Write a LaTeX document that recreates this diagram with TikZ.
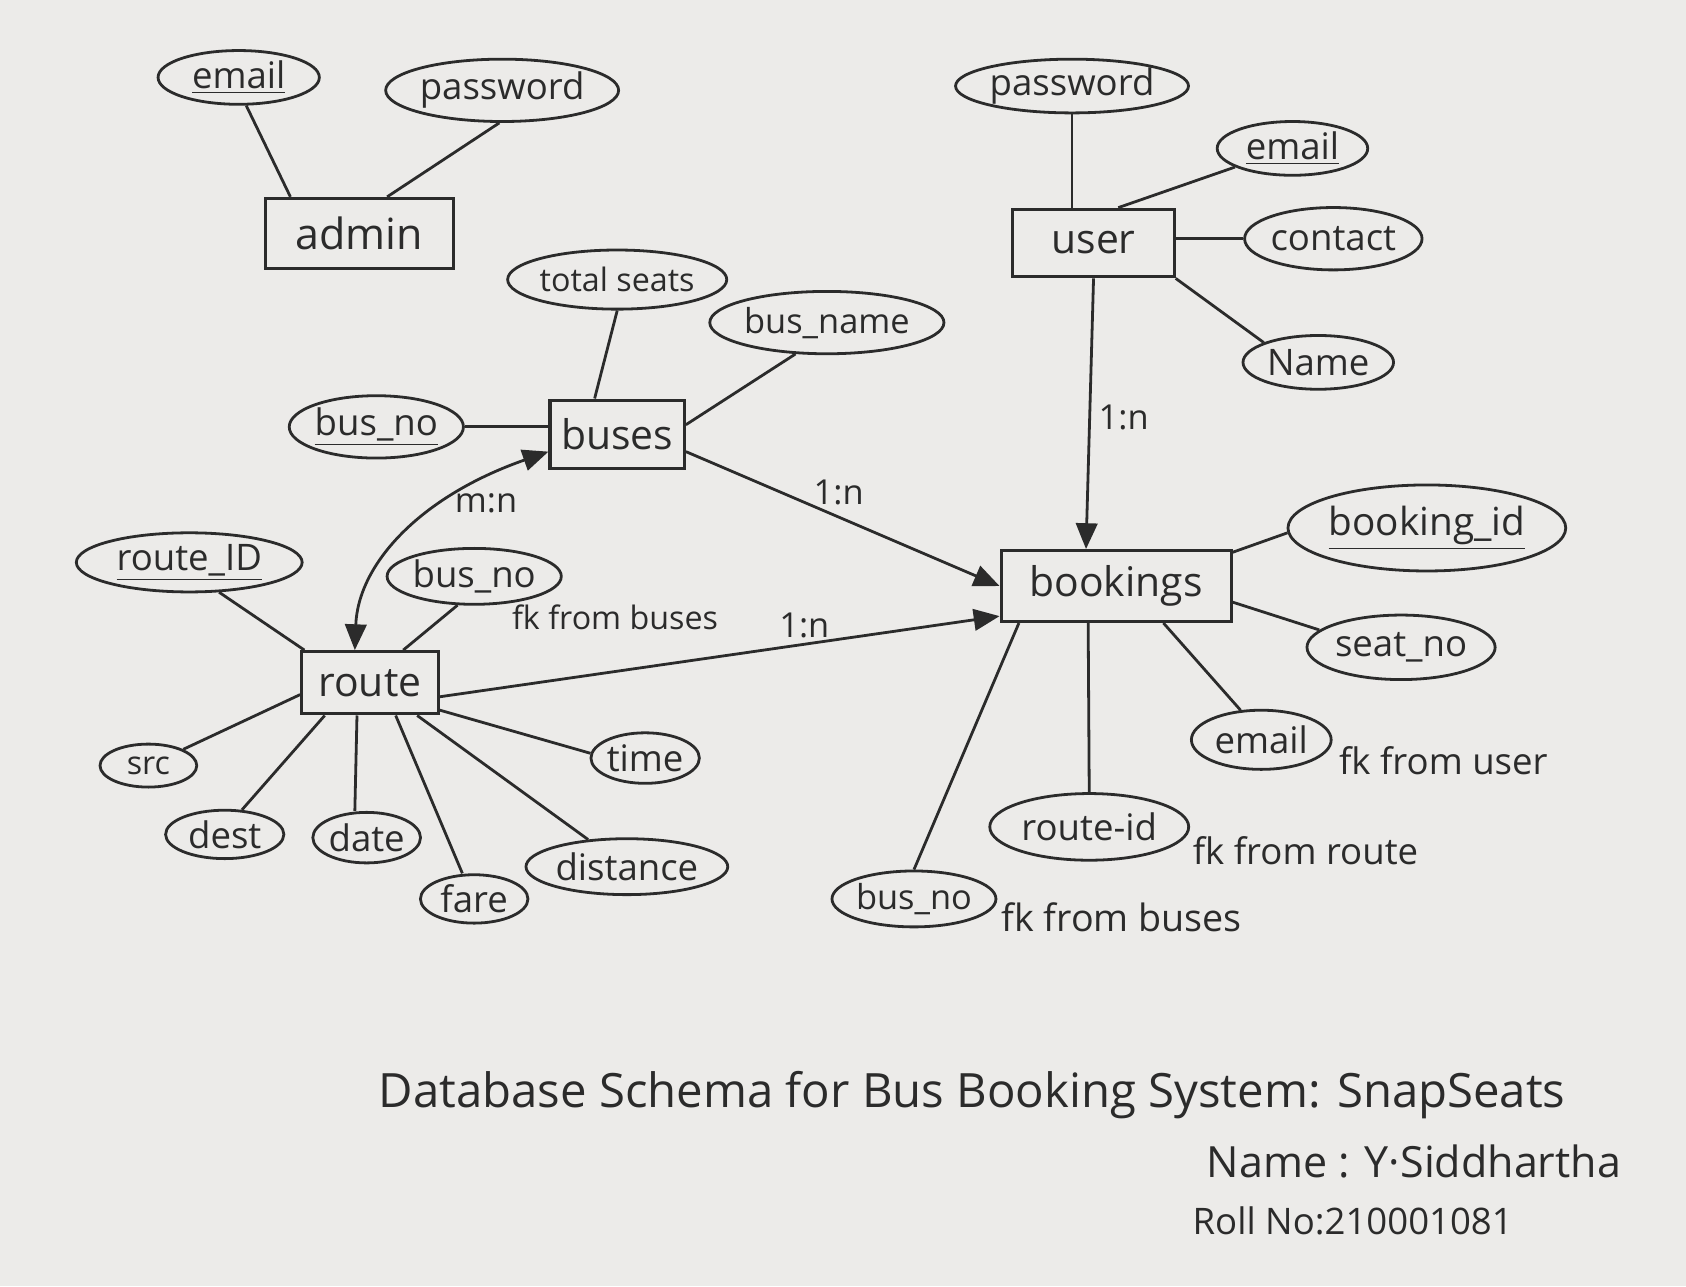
\documentclass[tikz,border=0pt]{standalone}
\usepackage{fontspec}
\setmainfont{Open Sans}
\usetikzlibrary{shapes.geometric,calc,arrows.meta}
\definecolor{paper}{HTML}{ECEBE9}
\definecolor{ink}{HTML}{2B2B2B}
\newcommand\fsz[1]{\fontsize{#1}{#1}\selectfont}
\tikzset{
  attr/.style={ellipse, draw=ink, line width=1.3pt, text=ink, inner sep=0pt, font=\fsz{17}},
  ent/.style={rectangle, draw=ink, line width=1.4pt, text=ink, inner sep=0pt, font=\fsz{19}},
  lbl/.style={text=ink, inner sep=0pt, font=\fsz{16}},
  arr/.style={-{Triangle[length=12pt,width=10pt]}},
  barr/.style={{Triangle[length=12pt,width=10pt]}-{Triangle[length=12pt,width=10pt]}}
}
\begin{document}
\begin{tikzpicture}[x=0.5pt,y=-0.5pt, draw=ink, line width=1.3pt]
\fill[paper] (0,0) rectangle (1568,1196);
\useasboundingbox (0,0) rectangle (1568,1196);

% admin
\node[ent, minimum width=87.5pt, minimum height=32.5pt, font=\fsz{20}] (admin) at (334,217) {admin};
\node[attr, minimum width=75pt, minimum height=25pt] (ae) at (222,72) {\underline{email}};
\node[attr, minimum width=97pt, minimum height=29pt] (ap) at (467,84) {password};
\draw (ae.285) -- ([xshift=12.5pt]admin.north west);
\draw (ap.265) -- ([xshift=13pt]admin.north);

% user
\node[ent, minimum width=75pt, minimum height=31.5pt] (user) at (1017,226) {user};
\node[attr, minimum width=87pt, minimum height=25pt] (up) at (997,80) {password};
\node[attr, minimum width=70pt, minimum height=25pt] (ue) at (1202,138) {\underline{email}};
\node[attr, minimum width=69pt, minimum height=29pt] (uc) at (1240,222) {contact};
\node[attr, minimum width=70pt, minimum height=25pt] (un) at (1226,337) {Name};
\draw (up.south) -- (up.south |- user.north);
\draw (ue.198) -- ([xshift=11.5pt]user.north);
\draw (uc.west) -- (uc.west -| user.east);
\draw (un.160) -- (user.south east);

% buses
\node[ent, minimum width=62.5pt, minimum height=32pt] (buses) at (574,404) {buses};
\node[attr, minimum width=97pt, minimum height=27.5pt, font=\fsz{15}] (ts) at (574,260) {total seats};
\node[attr, minimum width=95pt, minimum height=29pt, font=\fsz{16}] (bn) at (769,300) {bus\_name};
\node[attr, minimum width=75pt, minimum height=29pt] (bno) at (350,397) {\underline{bus\_no}};
\draw (ts.south) -- ([xshift=-10.5pt]buses.north);
\draw (bn.225) -- ([yshift=4.5pt]buses.east);
\draw (bno.east) -- (bno.east -| buses.west);

% route
\node[ent, minimum width=63.5pt, minimum height=29pt] (route) at (344,635) {route};
\node[attr, minimum width=105pt, minimum height=27.5pt] (ri) at (176,523) {\underline{route\_ID}};
\node[attr, minimum width=70pt, minimum height=26pt] (rb) at (441,536) {bus\_no};
\node[lbl, font=\fsz{15}] (rbfk) at (572,574) {fk from buses};
\node[attr, minimum width=45pt, minimum height=20pt, font=\fsz{15}] (src) at (138,712) {src};
\node[attr, minimum width=55pt, minimum height=22.5pt] (dest) at (209,776) {dest};
\node[attr, minimum width=50pt, minimum height=23.5pt] (date) at (341,779) {date};
\node[attr, minimum width=50pt, minimum height=22.5pt] (fare) at (441,836) {fare};
\node[attr, minimum width=75pt, minimum height=26pt] (dist) at (583,806) {distance};
\node[attr, minimum width=50pt, minimum height=23.5pt] (time) at (600,705) {time};
\draw (ri.315) -- ([xshift=2pt]route.north west);
\draw (rb.240) -- ([xshift=15.5pt]route.north);
\draw ([yshift=-5.5pt]route.west) -- (src.25);
\draw ([xshift=-21pt]route.south) -- (dest.55);
\draw ([xshift=-6pt]route.south) -- ([xshift=-5.5pt]date.north);
\draw ([xshift=12pt]route.south) -- ([xshift=-5.5pt]fare.north);
\draw ([xshift=22pt]route.south) -- (dist.145);
\draw ([yshift=2.5pt]route.south east) -- (time.175);

% bookings
\node[ent, minimum width=107pt, minimum height=33pt] (bk) at (1038,545) {bookings};
\node[attr, minimum width=110pt, minimum height=40pt, font=\fsz{18}] (bi) at (1327,491) {\underline{booking\_id}};
\node[attr, minimum width=87.5pt, minimum height=30pt] (sn) at (1303,602) {seat\_no};
\node[attr, minimum width=65pt, minimum height=27.5pt] (be) at (1173,688) {email};
\node[lbl, font=\fsz{17}, anchor=west] (befk) at (1244,707) {fk from user};
\node[attr, minimum width=92.5pt, minimum height=31pt] (br) at (1013,769) {route-id};
\node[lbl, font=\fsz{17}, anchor=west] (brfk) at (1108,791) {fk from route};
\node[attr, minimum width=70pt, minimum height=26pt, font=\fsz{16}] (bb) at (850,836) {bus\_no};
\node[lbl, font=\fsz{17.5}, anchor=west] (bbfk) at (930,853) {fk from buses};
\draw ([yshift=-1.5pt]bk.north east) -- (bi.182);
\draw ([yshift=-7.5pt]bk.east) -- (sn.168);
\draw ([xshift=22pt]bk.south) -- (be.125);
\draw ([xshift=-13pt]bk.south) -- (br.north);
\draw ([xshift=9pt]bk.south west) -- (bb.north);

% relationships
\draw[arr] (user.south) -- ([xshift=-14pt]bk.north);
\node[lbl] (l1) at (1045,388) {1:n};
\draw[arr] ([yshift=-8pt]buses.east) -- (bk.west);
\node[lbl] (l2) at (780,458) {1:n};
\draw[arr] ([yshift=-6.5pt]route.east) -- ([yshift=-14pt]bk.west);
\node[lbl] (l3) at (748,582) {1:n};
\draw[barr] ([yshift=-8pt]buses.west) .. controls (390,462) and (333,525) .. ([xshift=-7pt]route.north);
\node[lbl] (l4) at (452,468) {m:n};

% title
\node[lbl, font=\fsz{22}] (title) at (904,1018) {Database Schema for Bus Booking System: SnapSeats};
\node[lbl, font=\fsz{20}] (name) at (1315,1080) {Name : Y·Siddhartha};
\node[lbl, font=\fsz{17}] (roll) at (1258,1135) {Roll No:210001081};
\end{tikzpicture}
\end{document}
